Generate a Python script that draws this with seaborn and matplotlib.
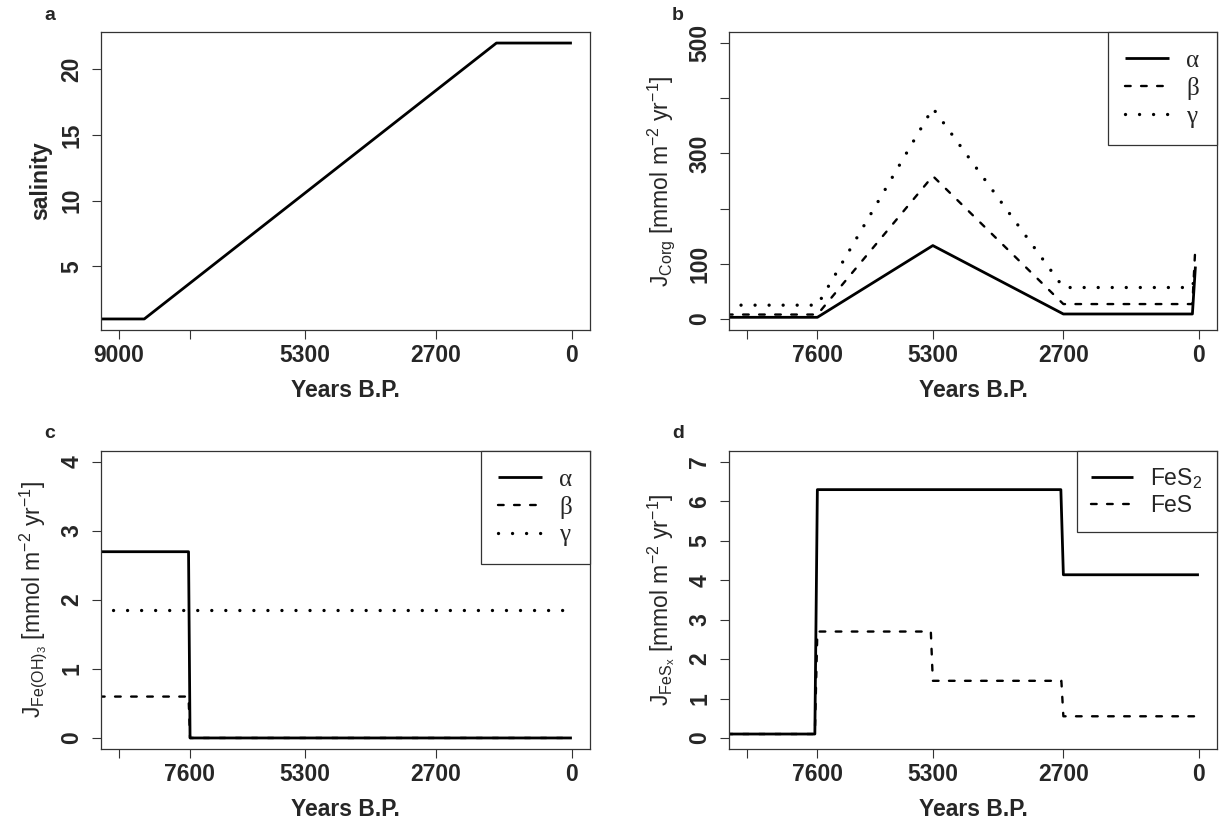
import matplotlib
matplotlib.use("Agg")
import matplotlib.pyplot as plt
import seaborn as sns
import pandas as pd

# ---------------- data ----------------
xticks = [9000, 7600, 5300, 2700, 0]
xlabels_a = ["9000", "", "5300", "2700", "0"]
xlabels_bcd = ["", "7600", "5300", "2700", "0"]

years_a = [9400, 8500, 1500, 0]
salinity = [1, 1, 22, 22]

years_b = [9400, 7600, 5300, 2700, 130, 70]
corg_alpha = [3, 3, 133, 9, 9, 95]
corg_beta = [8, 8, 259, 27, 27, 133]
corg_gamma = [25, 25, 382, 57, 57, 85]
yticks_b = [0, 100, 200, 300, 400, 500]
ylabels_b = ["0", "100", "", "300", "", "500"]

years_c_ab = [9400, 7620, 7590, 0]
feoh_alpha = [2.7, 2.7, 0, 0]
feoh_beta = [0.6, 0.6, 0, 0]
years_c_g = [9400, 0]
feoh_gamma = [1.85, 1.85]
yticks_c = [0, 1, 2, 3, 4]

years_d_fes2 = [9400, 7650, 7600, 2750, 2700, 0]
fes2 = [0.1, 0.1, 6.3, 6.3, 4.14, 4.14]
years_d_fes = [9400, 7650, 7600, 5340, 5300, 2740, 2700, 0]
fes = [0.1, 0.1, 2.7, 2.7, 1.45, 1.45, 0.55, 0.55]
yticks_d = [0, 1, 2, 3, 4, 5, 6, 7]

# ---------------- style ----------------
sns.set_theme(style="white")
plt.rcParams["font.family"] = ["Liberation Sans", "DejaVu Sans"]
plt.rcParams["mathtext.fontset"] = "custom"
plt.rcParams["mathtext.rm"] = "Liberation Sans"
plt.rcParams["mathtext.it"] = "Liberation Sans:italic"
plt.rcParams["mathtext.bf"] = "Liberation Sans:bold"

W, H = 1220, 824
fig = plt.figure(figsize=(W / 100, H / 100), dpi=100)

def box(l, t, r, b):
    return [l / W, 1 - b / H, (r - l) / W, (b - t) / H]

ax_a = fig.add_axes(box(101, 32, 590, 330))
ax_b = fig.add_axes(box(729, 32, 1217, 330))
ax_c = fig.add_axes(box(101, 451, 590, 749))
ax_d = fig.add_axes(box(729, 451, 1217, 749))

SOLID = ("-", 2.0)
DASHED = ((0, (2.4, 4.4)), 1.7)
DOTTED = ((0, (0.01, 4.2)), 2.4)
TICKFS = 16.5

def draw(ax, x, y, style):
    ls, lw = style
    df = pd.DataFrame({"x": x, "y": y})
    sns.lineplot(data=df, x="x", y="y", ax=ax, estimator=None, sort=False,
                 color="black", lw=lw, linestyle=ls, legend=False,
                 dash_capstyle="round", solid_capstyle="butt")

def pad_lim(lo, hi):
    d = (hi - lo) * 0.04
    return lo - d, hi + d

def style_axes(ax, xlabels, yticks, ylabels, ylim, ylabel, ylabel_bold, ylabelpad):
    ax.set_xlim(9360, -360)
    ax.set_ylim(*pad_lim(*ylim))
    ax.set_xticks(xticks)
    ax.set_xticklabels(xlabels)
    ax.set_yticks(yticks)
    ax.set_yticklabels(ylabels)
    for sp in ax.spines.values():
        sp.set_visible(True)
        sp.set_color("#333333")
        sp.set_linewidth(0.9)
    ax.tick_params(axis="both", direction="out", length=6.7, width=0.8,
                   color="#333333", labelsize=TICKFS, bottom=True, left=True,
                   top=False, right=False)
    ax.tick_params(axis="x", pad=3.5)
    ax.tick_params(axis="y", pad=6)
    for t in ax.get_xticklabels() + ax.get_yticklabels():
        t.set_fontweight("bold")
    for t in ax.get_yticklabels():
        t.set_rotation(90)
        t.set_va("center")
    ax.set_xlabel("Years B.P.", fontsize=TICKFS, fontweight="bold", labelpad=8.5)
    ax.set_ylabel(ylabel, fontsize=TICKFS,
                  fontweight="bold" if ylabel_bold else "normal", labelpad=ylabelpad)
    ax.grid(False)

# panel a
draw(ax_a, years_a, salinity, SOLID)
style_axes(ax_a, xlabels_a, [5, 10, 15, 20], ["5", "10", "15", "20"], (1, 22),
           "salinity", True, 6)

# panel b
draw(ax_b, years_b, corg_alpha, SOLID)
draw(ax_b, years_b, corg_beta, DASHED)
draw(ax_b, years_b, corg_gamma, DOTTED)
style_axes(ax_b, xlabels_bcd, yticks_b, ylabels_b, (0, 500),
           r"$\mathrm{J_{Corg}}$ [mmol m$^{-2}$ yr$^{-1}$]", False, 8)

# panel c
draw(ax_c, years_c_ab, feoh_alpha, SOLID)
draw(ax_c, years_c_ab, feoh_beta, DASHED)
draw(ax_c, years_c_g, feoh_gamma, DOTTED)
style_axes(ax_c, xlabels_bcd, yticks_c, [str(v) for v in yticks_c], (0, 4),
           r"$\mathrm{J_{Fe(OH)_3}}$ [mmol m$^{-2}$ yr$^{-1}$]", False, 8)

# panel d
draw(ax_d, years_d_fes2, fes2, SOLID)
draw(ax_d, years_d_fes, fes, DASHED)
style_axes(ax_d, xlabels_bcd, yticks_d, [str(v) for v in yticks_d], (0, 7),
           r"$\mathrm{J_{FeS_x}}$ [mmol m$^{-2}$ yr$^{-1}$]", False, 8)

def make_legend(ax, labels, prop, **kw):
    leg = ax.legend(handles=ax.get_lines()[:len(labels)], labels=labels,
                    loc="upper right", bbox_to_anchor=(1, 1), borderaxespad=0,
                    fancybox=False, framealpha=1, edgecolor="#333333", prop=prop, **kw)
    leg.get_frame().set_linewidth(0.9)
    return leg

greek = ["\u03b1", "\u03b2", "\u03b3"]
serif = {"family": "Liberation Serif", "size": 18}
make_legend(ax_b, greek, serif, borderpad=0.7, labelspacing=0.2,
            handlelength=1.75, handletextpad=0.7)
make_legend(ax_c, greek, serif, borderpad=0.7, labelspacing=0.2,
            handlelength=1.75, handletextpad=0.7)
make_legend(ax_d, [r"FeS$_2$", "FeS"], {"family": "Liberation Sans", "size": 16.5},
            borderpad=0.65, labelspacing=0.15, handlelength=1.8, handletextpad=0.75)

for letter, (px, py) in zip("abcd", [(50, 15), (678, 15), (50, 434), (678, 433)]):
    fig.text(px / W, 1 - py / H, letter, fontsize=14, fontweight="bold",
             ha="center", va="center")

fig.savefig("out.png", dpi=100)
